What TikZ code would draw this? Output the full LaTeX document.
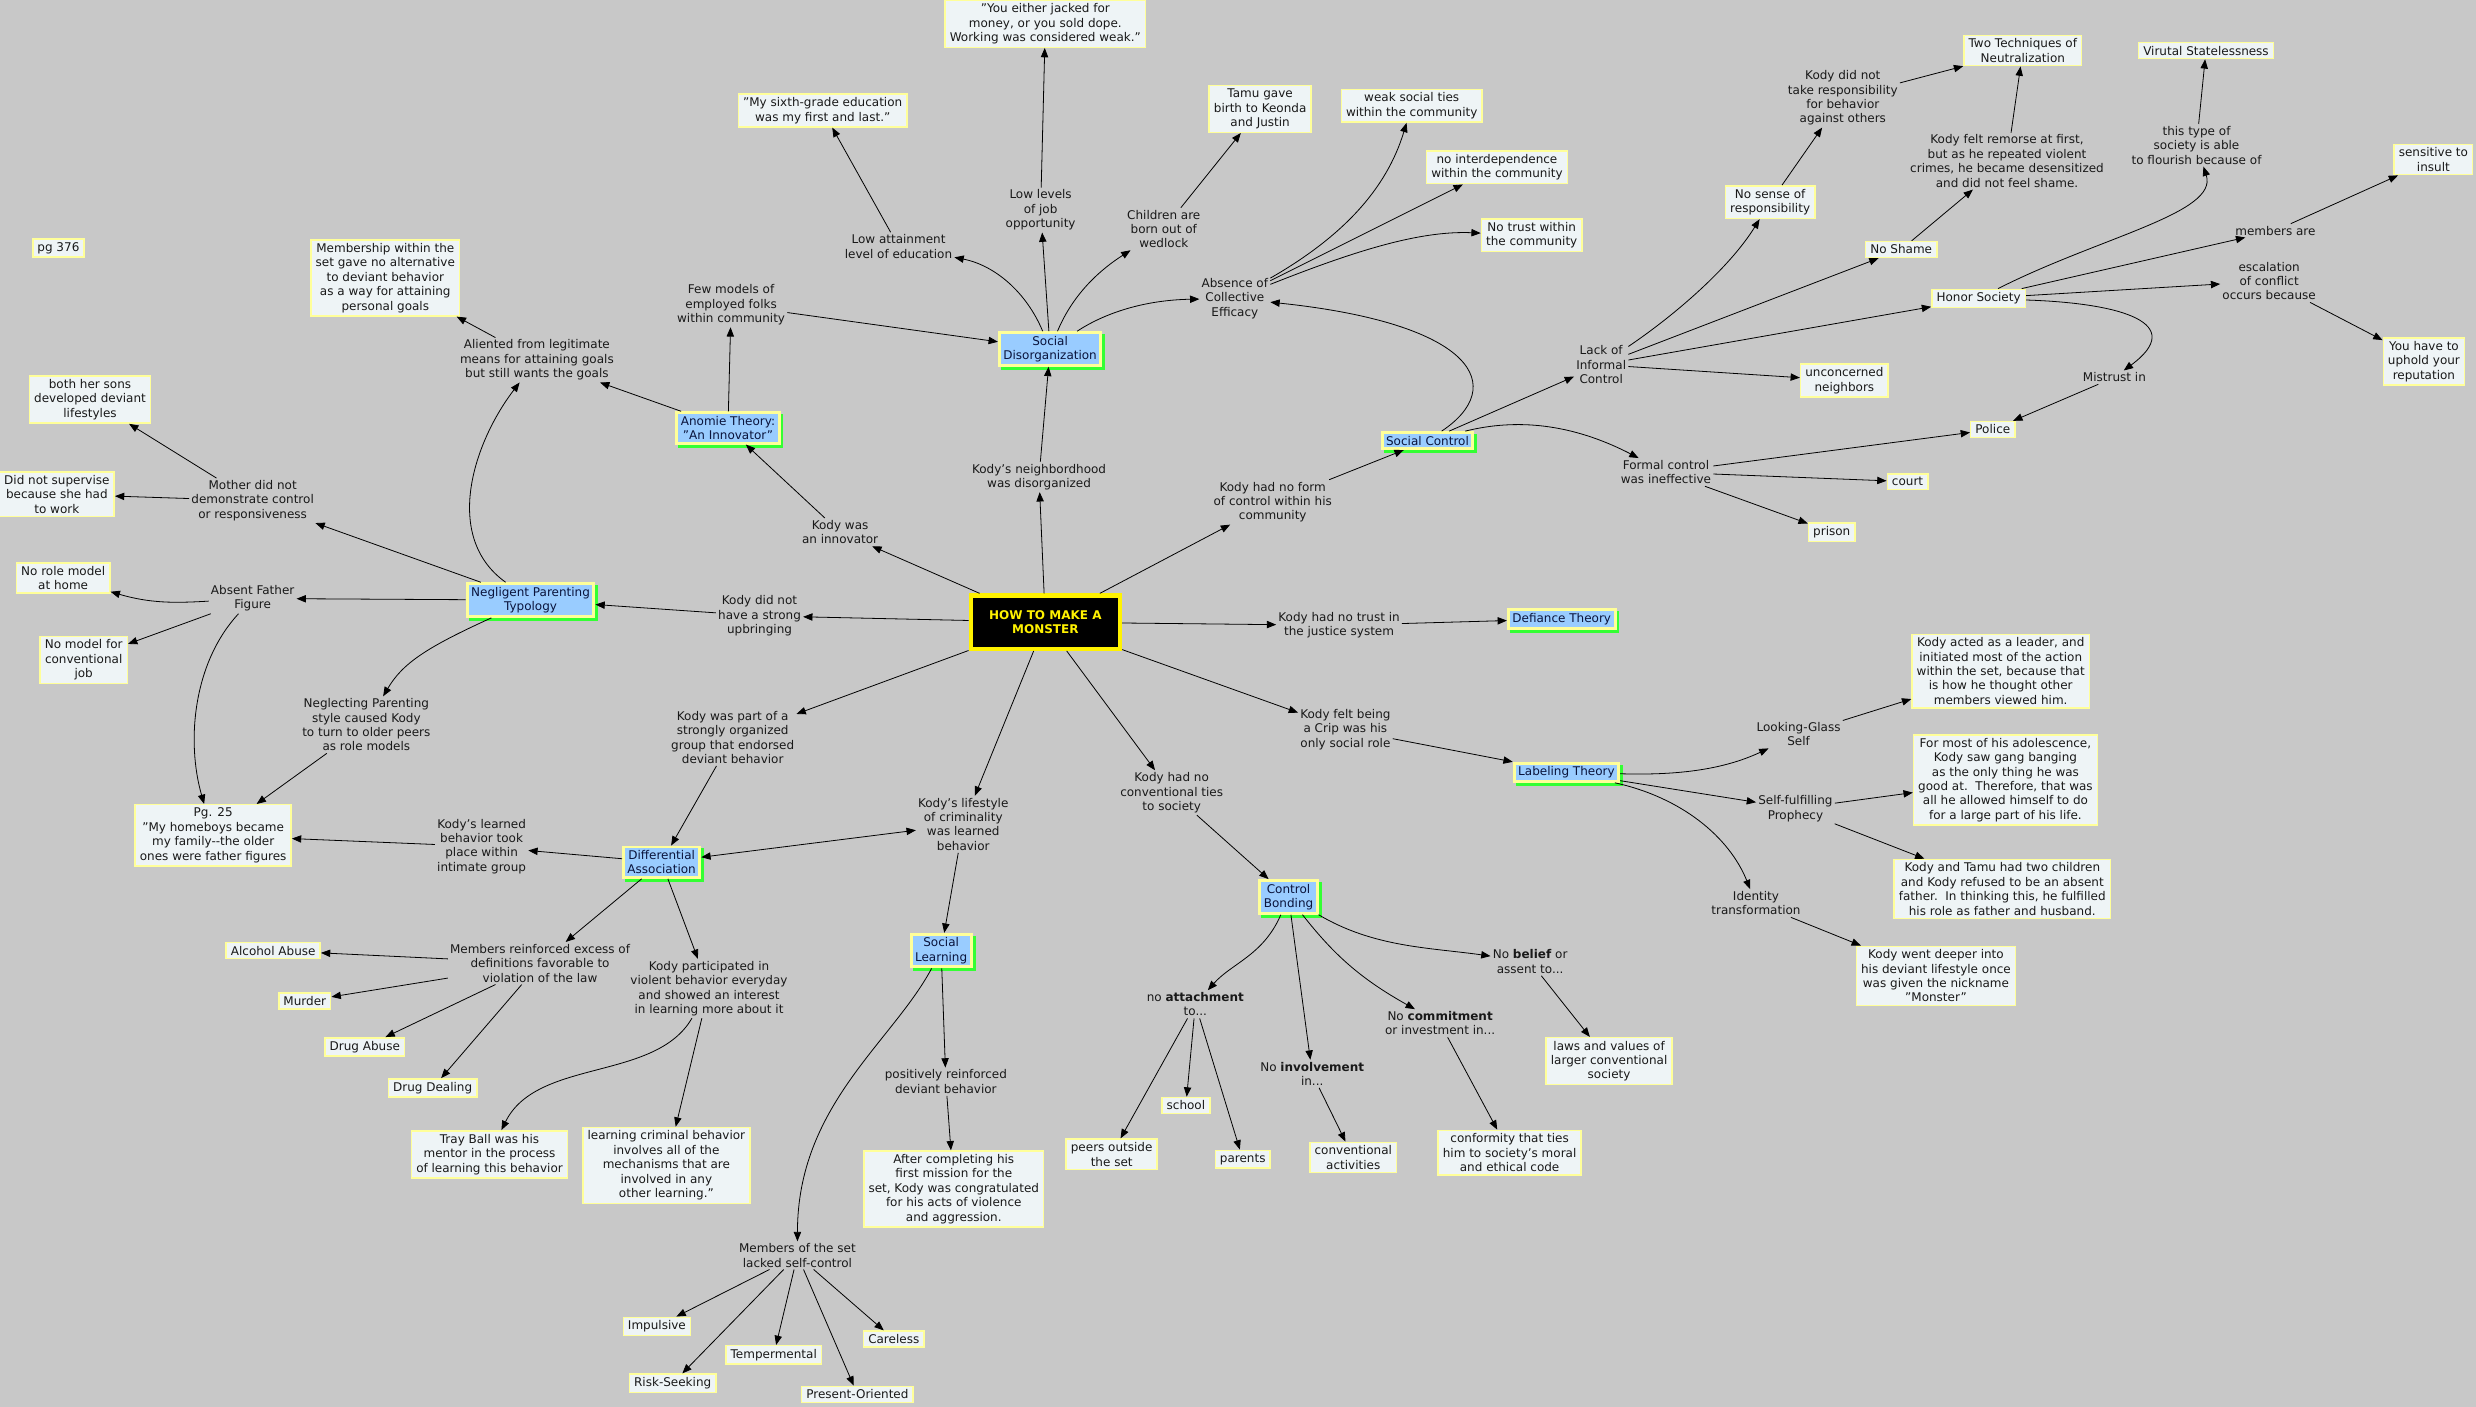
\documentclass[tikz,border=0pt]{standalone}
\usepackage{fontspec}
\setmainfont{DejaVu Sans}
\usetikzlibrary{arrows.meta,shadows}
\definecolor{bg}{RGB}{200,200,200}
\definecolor{cfill}{RGB}{238,244,246}
\definecolor{cbord}{RGB}{255,255,153}
\definecolor{tfill}{RGB}{153,204,255}
\definecolor{tshadow}{RGB}{51,255,51}
\definecolor{txt}{RGB}{25,25,25}
\definecolor{ttxt}{RGB}{10,20,60}
\begin{document}
\begin{tikzpicture}[x=1.1843pt,y=-1.1843pt,
  every node/.style={font=\fontsize{9}{10.8}\selectfont, text=txt, align=center},
  concept/.style={draw=cbord, line width=1.1pt, fill=cfill, inner xsep=3.5pt, inner ysep=2.5pt},
  theory/.style={draw=cbord, line width=2.2pt, fill=tfill, text=ttxt, inner xsep=3pt, inner ysep=2.5pt,
    drop shadow={shadow xshift=2.2pt, shadow yshift=-2.2pt, fill=tshadow, draw=tshadow, line width=2.2pt, opacity=1}},
  lbl/.style={inner sep=1.5pt},
  mainbox/.style={draw=yellow, line width=3.2pt, fill=black, text=yellow, font=\fontsize{9}{10.8}\selectfont\bfseries, minimum width=112pt, minimum height=40pt},
  arr/.style={-{Triangle[length=7pt,width=5.5pt]}, line width=0.6pt, black},
  darr/.style={{Triangle[length=7pt,width=5.5pt]}-{Triangle[length=7pt,width=5.5pt]}, line width=0.6pt, black}
]
\fill[bg] (0,0) rectangle (1568,891);
\useasboundingbox (0,0) rectangle (1568,891);

% ---------- nodes ----------
\node[concept] (pg376) at (37,157) {pg 376};
\node[concept] (member) at (244,176) {Membership within the\\set gave no alternative\\to deviant behavior\\as a way for attaining\\personal goals};
\node[lbl] (alien) at (340,228) {Aliented from legitimate\\means for attaining goals\\but still wants the goals};
\node[lbl] (fewmod) at (463,193) {Few models of\\employed folks\\within community};
\node[theory] (anomie) at (461,271) {Anomie Theory:\\"An Innovator"};
\node[concept] (sons) at (57,253) {both her sons\\developed deviant\\lifestyles};
\node[concept] (superv) at (36,313) {Did not supervise\\because she had\\to work};
\node[lbl] (mother) at (160,317) {Mother did not\\demonstrate control\\or responsiveness};
\node[concept] (rolemod) at (40,366) {No role model\\at home};
\node[lbl] (absent) at (160,379) {Absent Father\\Figure};
\node[concept] (nomodel) at (53,418) {No model for\\conventional\\job};
\node[theory] (neg) at (336,380) {Negligent Parenting\\Typology};
\node[lbl] (upbring) at (481,390) {Kody did not\\have a strong\\upbringing};
\node[lbl] (innov) at (532,337) {Kody was\\an innovator};
\node[lbl] (neigh) at (658,302) {Kody's neighbordhood\\was disorganized};
\node[theory] (sd) at (665,221) {Social\\Disorganization};
\node[lbl] (lowatt) at (569,156) {Low attainment\\level of education};
\node[concept] (sixth) at (521,70) {"My sixth-grade education\\was my first and last."};
\node[lbl] (lowlev) at (659,133) {Low levels\\of job\\opportunity};
\node[concept] (jacked) at (662,15) {"You either jacked for\\money, or you sold dope.\\Working was considered weak."};
\node[lbl] (children) at (737,145) {Children are\\born out of\\wedlock};
\node[concept] (tamu) at (798,69) {Tamu gave\\birth to Keonda\\and Justin};
\node[lbl] (absence) at (782,189) {Absence of\\Collective\\Efficacy};
\node[concept] (weak) at (894,67) {weak social ties\\within the community};
\node[concept] (interdep) at (948,106) {no interdependence\\within the community};
\node[concept] (notrust) at (970,149) {No trust within\\the community};
\node[theory] (sc) at (904,279) {Social Control};
\node[lbl] (noform) at (806,318) {Kody had no form\\of control within his\\community};
\node[lbl] (lack) at (1014,231) {Lack of\\Informal\\Control};
\node[lbl] (formal) at (1055,299) {Formal control\\was ineffective};
\node[lbl] (takeresp) at (1167,62) {Kody did not\\take responsibility\\for behavior\\against others};
\node[concept] (twotech) at (1281,32) {Two Techniques of\\Neutralization};
\node[concept] (virutal) at (1397,32) {Virutal Statelessness};
\node[concept] (nosense) at (1121,128) {No sense of\\responsibility};
\node[lbl] (remorse) at (1271,102) {Kody felt remorse at first,\\but as he repeated violent\\crimes, he became desensitized\\and did not feel shame.};
\node[lbl] (thistype) at (1391,92) {this type of\\society is able\\to flourish because of};
\node[concept] (sensitive) at (1541,101) {sensitive to\\insult};
\node[concept] (noshame) at (1204,158) {No Shame};
\node[lbl] (membersare) at (1441,146) {members are};
\node[concept] (honor) at (1253,189) {Honor Society};
\node[lbl] (escal) at (1437,178) {escalation\\of conflict\\occurs because};
\node[concept] (uphold) at (1535,229) {You have to\\uphold your\\reputation};
\node[concept] (unconc) at (1168,241) {unconcerned\\neighbors};
\node[lbl] (mistrust) at (1339,239) {Mistrust in};
\node[concept] (police) at (1262,272) {Police};
\node[concept] (court) at (1208,305) {court};
\node[concept] (prison) at (1160,337) {prison};
\node[mainbox] (main) at (662,394) {HOW TO MAKE A\\MONSTER};
\node[lbl] (justice) at (848,396) {Kody had no trust in\\the justice system};
\node[theory] (defiance) at (989,392) {Defiance Theory};
\node[lbl] (crip) at (852,462) {Kody felt being\\a Crip was his\\only social role};
\node[theory] (label) at (992,489) {Labeling Theory};
\node[lbl] (looking) at (1139,465) {Looking-Glass\\Self};
\node[concept] (leader) at (1267,425) {Kody acted as a leader, and\\initiated most of the action\\within the set, because that\\is how he thought other\\members viewed him.};
\node[lbl] (selff) at (1137,512) {Self-fulfilling\\Prophecy};
\node[concept] (formost) at (1270,494) {For most of his adolescence,\\Kody saw gang banging\\as the only thing he was\\good at.\ \ Therefore, that was\\all he allowed himself to do\\for a large part of his life.};
\node[concept] (tamu2) at (1268,563) {Kody and Tamu had two children\\and Kody refused to be an absent\\father.\ \ In thinking this, he fulfilled\\his role as father and husband.};
\node[lbl] (identity) at (1112,572) {Identity\\transformation};
\node[concept] (deeper) at (1226,618) {Kody went deeper into\\his deviant lifestyle once\\was given the nickname\\"Monster"};
\node[lbl] (partof) at (464,467) {Kody was part of a\\strongly organized\\group that endorsed\\deviant behavior};
\node[lbl] (lifestyle) at (610,522) {Kody's lifestyle\\of criminality\\was learned\\behavior};
\node[lbl] (conv) at (742,502) {Kody had no\\conventional ties\\to society};
\node[theory] (cb) at (816,568) {Control\\Bonding};
\node[theory] (da) at (419,546) {Differential\\Association};
\node[lbl] (learned) at (305,536) {Kody's learned\\behavior took\\place within\\intimate group};
\node[concept] (pg25) at (135,529) {Pg. 25\\"My homeboys became\\my family{-}{-}the older\\ones were father figures};
\node[lbl] (neglect) at (232,459) {Neglecting Parenting\\style caused Kody\\to turn to older peers\\as role models};
\node[theory] (sl) at (596,602) {Social\\Learning};
\node[lbl] (reinf) at (342,610) {Members reinforced excess of\\definitions favorable to\\violation of the law};
\node[lbl] (partic) at (449,626) {Kody participated in\\violent behavior everyday\\and showed an interest\\in learning more about it};
\node[concept] (alcohol) at (173,602) {Alcohol Abuse};
\node[concept] (murder) at (193,634) {Murder};
\node[concept] (drugab) at (231,663) {Drug Abuse};
\node[concept] (drugdeal) at (274,689) {Drug Dealing};
\node[concept] (tray) at (310,731) {Tray Ball was his\\mentor in the process\\of learning this behavior};
\node[concept] (learncrim) at (422,738) {learning criminal behavior\\involves all of the\\mechanisms that are\\involved in any\\other learning.”};
\node[lbl] (posit) at (599,685) {positively reinforced\\deviant behavior};
\node[concept] (after) at (604,753) {After completing his\\first mission for the\\set, Kody was congratulated\\for his acts of violence\\and aggression.};
\node[lbl] (selfctrl) at (505,795) {Members of the set\\lacked self-control};
\node[concept] (impulsive) at (416,840) {Impulsive};
\node[concept] (temper) at (490,858) {Tempermental};
\node[concept] (careless) at (566,848) {Careless};
\node[concept] (risk) at (426,876) {Risk-Seeking};
\node[concept] (present) at (543,883) {Present-Oriented};
\node[lbl] (attach) at (757,636) {no \textbf{attachment}\\to...};
\node[concept] (school) at (751,700) {school};
\node[concept] (peers) at (704,731) {peers outside\\the set};
\node[concept] (parents) at (787,734) {parents};
\node[lbl] (involve) at (831,680) {No \textbf{involvement}\\in...};
\node[concept] (convact) at (857,733) {conventional\\activities};
\node[lbl] (commit) at (912,648) {No \textbf{commitment}\\or investment in...};
\node[concept] (conform) at (956,730) {conformity that ties\\him to society's moral\\and ethical code};
\node[lbl] (belief) at (969,609) {No \textbf{belief} or\\assent to...};
\node[concept] (laws) at (1019,672) {laws and values of\\larger conventional\\society};

% ---------- connectors ----------
\draw[arr] (main) -- (innov);
\draw[arr] (innov) -- (anomie);
\draw[arr] (main) -- (neigh);
\draw[arr] (neigh) -- (sd);
\draw[arr] (main) -- (noform);
\draw[arr] (noform) -- (sc);
\draw[arr] (main) -- (justice);
\draw[arr] (justice) -- (defiance);
\draw[arr] (main) -- (crip);
\draw[arr] (crip) -- (label);
\draw[arr] (main) -- (conv);
\draw[arr] (conv) -- (cb);
\draw[arr] (main) -- (lifestyle);
\draw[arr] (lifestyle) -- (sl);
\draw[arr] (main) -- (partof);
\draw[arr] (partof) -- (da);
\draw[arr] (main) -- (upbring);
\draw[arr] (upbring) -- (neg);
\draw[darr] (da) -- (lifestyle);

\draw[arr] (anomie) -- (fewmod);
\draw[arr] (fewmod) -- (sd);
\draw[arr] (anomie) -- (alien);
\draw[arr] (alien) -- (member);
\draw[arr] (neg) .. controls (280,340) and (300,280) .. (alien);
\draw[arr] (neg) -- (mother);
\draw[arr] (mother) -- (sons);
\draw[arr] (mother) -- (superv);
\draw[arr] (neg) -- (absent);
\draw[arr] (absent) .. controls (110,382) and (95,382) .. (rolemod);
\draw[arr] (absent) -- (nomodel);
\draw[arr] (absent) .. controls (122,420) and (118,470) .. (pg25);
\draw[arr] (neg) .. controls (270,410) and (255,420) .. (neglect);
\draw[arr] (neglect) -- (pg25);

\draw[arr] (sd) .. controls (650,185) and (630,168) .. (lowatt);
\draw[arr] (lowatt) -- (sixth);
\draw[arr] (sd) -- (lowlev);
\draw[arr] (lowlev) -- (jacked);
\draw[arr] (sd) .. controls (680,185) and (698,170) .. (children);
\draw[arr] (children) -- (tamu);
\draw[arr] (sd) .. controls (700,198) and (725,190) .. (absence);
\draw[arr] (absence) .. controls (850,150) and (878,120) .. (weak);
\draw[arr] (absence) -- (interdep);
\draw[arr] (absence) .. controls (860,158) and (900,146) .. (notrust);
\draw[arr] (sc) .. controls (955,245) and (935,205) .. (absence);
\draw[arr] (sc) -- (lack);
\draw[arr] (sc) .. controls (960,265) and (995,268) .. (formal);

\draw[arr] (lack) .. controls (1060,200) and (1095,170) .. (nosense);
\draw[arr] (lack) -- (noshame);
\draw[arr] (lack) -- (honor);
\draw[arr] (lack) -- (unconc);
\draw[arr] (nosense) -- (takeresp);
\draw[arr] (takeresp) -- (twotech);
\draw[arr] (noshame) -- (remorse);
\draw[arr] (remorse) -- (twotech);
\draw[arr] (honor) .. controls (1330,150) and (1405,135) .. (thistype);
\draw[arr] (thistype) -- (virutal);
\draw[arr] (honor) -- (membersare);
\draw[arr] (membersare) -- (sensitive);
\draw[arr] (honor) -- (escal);
\draw[arr] (escal) -- (uphold);
\draw[arr] (honor) .. controls (1345,192) and (1385,205) .. (mistrust);
\draw[arr] (mistrust) -- (police);
\draw[arr] (formal) -- (police);
\draw[arr] (formal) -- (court);
\draw[arr] (formal) -- (prison);

\draw[arr] (label) .. controls (1060,491) and (1090,488) .. (looking);
\draw[arr] (looking) -- (leader);
\draw[arr] (label) -- (selff);
\draw[arr] (selff) -- (formost);
\draw[arr] (selff) -- (tamu2);
\draw[arr] (label) .. controls (1065,505) and (1095,530) .. (identity);
\draw[arr] (identity) -- (deeper);

\draw[arr] (cb) .. controls (800,605) and (780,610) .. (attach);
\draw[arr] (attach) -- (school);
\draw[arr] (attach) -- (peers);
\draw[arr] (attach) -- (parents);
\draw[arr] (cb) -- (involve);
\draw[arr] (involve) -- (convact);
\draw[arr] (cb) .. controls (845,605) and (862,620) .. (commit);
\draw[arr] (commit) -- (conform);
\draw[arr] (cb) .. controls (870,600) and (905,600) .. (belief);
\draw[arr] (belief) -- (laws);

\draw[arr] (da) -- (learned);
\draw[arr] (learned) -- (pg25);
\draw[arr] (da) -- (reinf);
\draw[arr] (reinf) -- (alcohol);
\draw[arr] (reinf) -- (murder);
\draw[arr] (reinf) -- (drugab);
\draw[arr] (reinf) -- (drugdeal);
\draw[arr] (da) -- (partic);
\draw[arr] (partic) .. controls (415,685) and (340,670) .. (tray);
\draw[arr] (partic) -- (learncrim);

\draw[arr] (sl) -- (posit);
\draw[arr] (posit) -- (after);
\draw[arr] (sl) .. controls (565,660) and (505,700) .. (selfctrl);
\draw[arr] (selfctrl) -- (impulsive);
\draw[arr] (selfctrl) -- (temper);
\draw[arr] (selfctrl) -- (careless);
\draw[arr] (selfctrl) -- (risk);
\draw[arr] (selfctrl) -- (present);
\end{tikzpicture}
\end{document}
